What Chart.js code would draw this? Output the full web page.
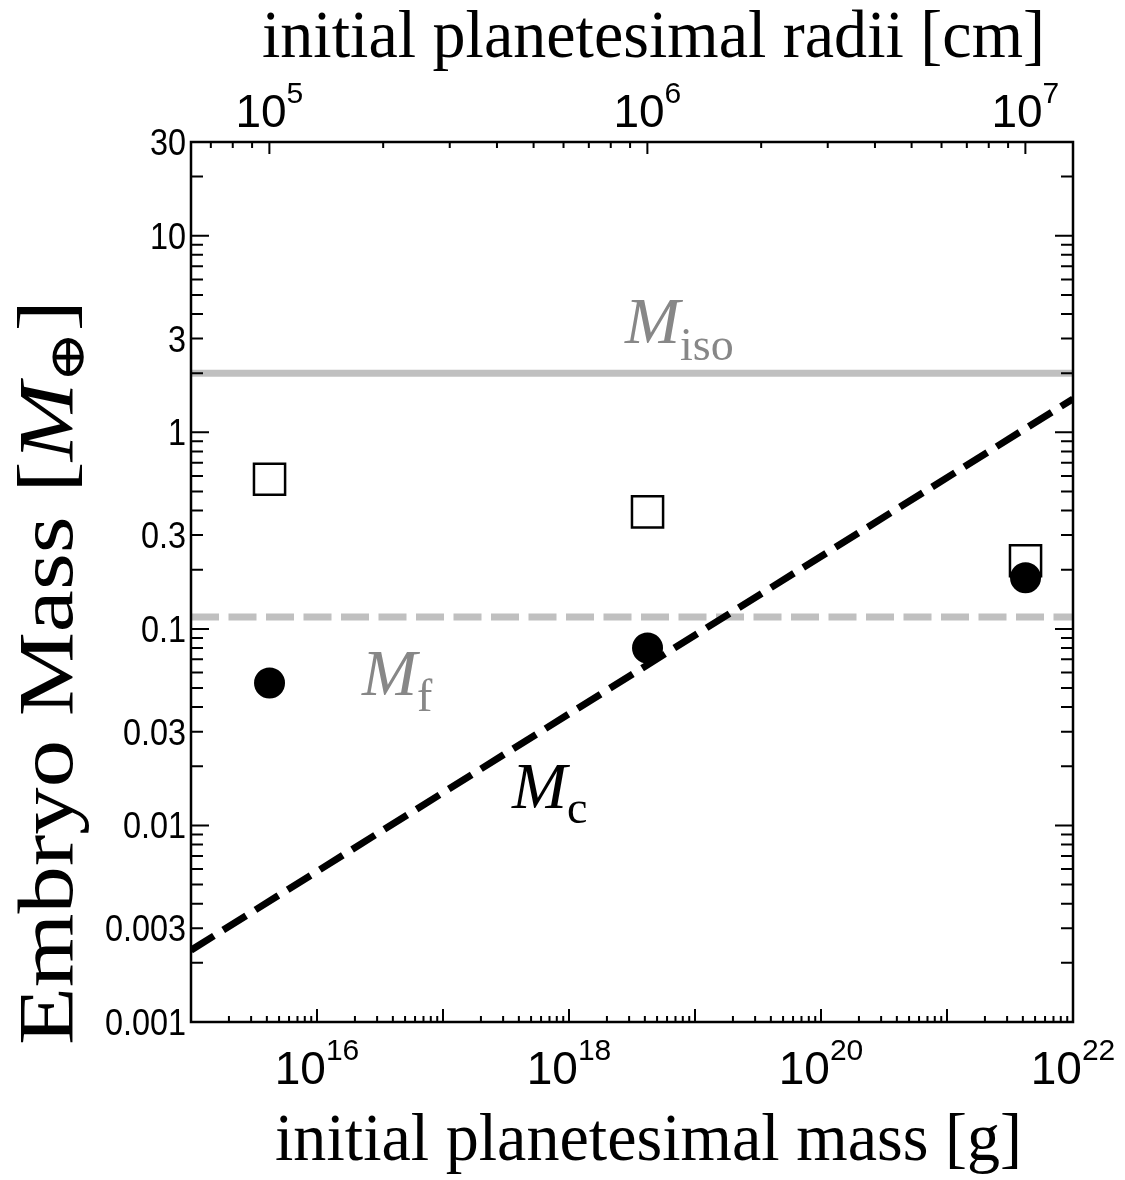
<!DOCTYPE html>
<html><head><meta charset="utf-8">
<script src="https://cdn.jsdelivr.net/npm/chart.js@4/dist/chart.umd.min.js"></script>
<style>html,body{margin:0;padding:0;background:#fff;}#wrap{width:1125px;height:1180px;}</style>
</head><body><div id="wrap"><canvas id="c" width="1125" height="1180"></canvas></div>
<script>
// ---------- data ----------
const planetesimalMass = [4.2e15, 4.2e18, 4.2e21];       // initial planetesimal mass [g]
const embryoMassSquares = [0.577, 0.394, 0.222];          // open squares [M_earth]
const embryoMassCircles = [0.053, 0.080, 0.182];          // filled circles [M_earth]
const isoMass = 2.0;                                      // M_iso
const fMass = 0.115;                                      // M_f
const mcMass = [1e15, 1e22];                              // M_c line, x ends
const mcEmbryoMass = [0.00232, 1.48];                     // M_c line, y ends
const xRange = [1e15, 1e22];
const yRange = [0.001, 30];
const bottomTickExps = [16, 18, 20, 22];
const topTickExps = [5, 6, 7];
const yTickLabels = ['0.001','0.003','0.01','0.03','0.1','0.3','1','3','10','30'];
const rho = 1; // g cm^-3, radius <-> mass

const radiusOf = m => Math.cbrt(3 * m / (4 * Math.PI * rho));

const SANS = "'Liberation Sans', Arial, sans-serif";
const SERIF = "'Liberation Serif', 'Times New Roman', 'DejaVu Serif', serif";

function drawParts(ctx, parts, x, y, targetW) {
  let total = 0;
  parts.forEach(p => { ctx.font = p.font; p.w = ctx.measureText(p.t).width; total += p.w; });
  const sx = targetW ? targetW / total : 1;
  ctx.save();
  ctx.translate(x, y);
  ctx.scale(sx, 1);
  let cx = 0;
  parts.forEach(p => {
    ctx.font = p.font;
    ctx.fillStyle = p.color || '#000';
    ctx.textAlign = 'left';
    ctx.textBaseline = 'alphabetic';
    ctx.fillText(p.t, cx, p.dy || 0);
    cx += p.w;
  });
  ctx.restore();
}

const framePlugin = {
  id: 'frame',
  afterDraw(chart) {
    const ctx = chart.ctx;
    const a = chart.chartArea;
    const xs = chart.scales.x, ys = chart.scales.y, xr = chart.scales.xr;
    ctx.save();
    ctx.strokeStyle = '#000';
    // frame
    ctx.lineWidth = 2.5;
    ctx.strokeRect(a.left, a.top, a.right - a.left, a.bottom - a.top);
    ctx.lineWidth = 2;
    ctx.beginPath();
    // y ticks (left and right)
    for (let d = -3; d <= 1; d++) {
      for (let k = 1; k <= 9; k++) {
        const v = k * Math.pow(10, d);
        if (v > yRange[1] * 1.0001) continue;
        const py = ys.getPixelForValue(v);
        const len = k === 1 ? 18 : 12;
        ctx.moveTo(a.left, py); ctx.lineTo(a.left + len, py);
        ctx.moveTo(a.right, py); ctx.lineTo(a.right - len, py);
      }
    }
    // bottom mass ticks
    for (let d = 15; d <= 22; d++) {
      for (let k = 1; k <= 9; k++) {
        const v = k * Math.pow(10, d);
        if (v > xRange[1] * 1.0001) continue;
        const px = xs.getPixelForValue(v);
        const len = k === 1 ? 13 : 6;
        ctx.moveTo(px, a.bottom); ctx.lineTo(px, a.bottom - len);
      }
    }
    // top radius ticks
    const rMin = xr.min, rMax = xr.max;
    for (let d = 4; d <= 7; d++) {
      for (let k = 1; k <= 9; k++) {
        const v = k * Math.pow(10, d);
        if (v < rMin || v > rMax) continue;
        const px = xr.getPixelForValue(v);
        const len = k === 1 ? 12 : 6;
        ctx.moveTo(px, a.top); ctx.lineTo(px, a.top + len);
      }
    }
    ctx.stroke();

    // y tick labels (slightly condensed sans)
    ctx.fillStyle = '#000';
    ctx.font = '36px ' + SANS;
    ctx.textAlign = 'right';
    ctx.textBaseline = 'alphabetic';
    yTickLabels.forEach(s => {
      const py = ys.getPixelForValue(parseFloat(s));
      ctx.save();
      ctx.translate(186, py + 13);
      ctx.scale(0.9, 1);
      ctx.fillText(s, 0, 0);
      ctx.restore();
    });

    // 10^n labels
    const drawPow = (px, exp, baseY) => {
      ctx.font = '46px ' + SANS;
      const wb = ctx.measureText('10').width;
      ctx.font = '30px ' + SANS;
      const we = ctx.measureText(String(exp)).width;
      const x0 = px - (wb + we) / 2;
      ctx.textAlign = 'left';
      ctx.font = '46px ' + SANS;
      ctx.fillText('10', x0, baseY);
      ctx.font = '30px ' + SANS;
      ctx.fillText(String(exp), x0 + wb, baseY - 24);
    };
    bottomTickExps.forEach(e => drawPow(xs.getPixelForValue(Math.pow(10, e)), e, 1084));
    topTickExps.forEach(e => drawPow(xr.getPixelForValue(Math.pow(10, e)), e, 127));

    // axis titles
    drawParts(ctx, [{t: 'initial planetesimal radii [cm]', font: '68px ' + SERIF}], 262, 57, 783);
    drawParts(ctx, [{t: 'initial planetesimal mass [g]', font: '68px ' + SERIF}], 275, 1160, 747);
    ctx.save();
    ctx.translate(72, 1045);
    ctx.rotate(-Math.PI / 2);
    drawParts(ctx, [
      {t: 'Embryo Mass [', font: '78px ' + SERIF},
      {t: 'M', font: 'italic 78px ' + SERIF},
      {t: '\u2295', font: '50px ' + SERIF, dy: 12},
      {t: ']', font: '78px ' + SERIF}
    ], 0, 0, 745);
    ctx.restore();

    // line annotations
    const gray = '#878787';
    drawParts(ctx, [{t: 'M', font: 'italic 66px ' + SERIF, color: gray}, {t: 'iso', font: '46px ' + SERIF, color: gray, dy: 17}], 625, 343);
    drawParts(ctx, [{t: 'M', font: 'italic 66px ' + SERIF, color: gray}, {t: 'f', font: '46px ' + SERIF, color: gray, dy: 16}], 362, 695);
    drawParts(ctx, [{t: 'M', font: 'italic 66px ' + SERIF, color: '#000'}, {t: 'c', font: '46px ' + SERIF, color: '#000', dy: 15}], 512, 808);
    ctx.restore();
  }
};

const pts = (xs, ys) => xs.map((x, i) => ({x: x, y: ys[i]}));

new Chart(document.getElementById('c').getContext('2d'), {
  type: 'scatter',
  data: {
    datasets: [
      {label: 'circles', data: pts(planetesimalMass, embryoMassCircles), pointStyle: 'circle',
       pointRadius: 15.5, backgroundColor: '#000', borderColor: '#000', borderWidth: 0, order: 0},
      {label: 'squares', data: pts(planetesimalMass, embryoMassSquares), pointStyle: 'rect',
       pointRadius: 22, backgroundColor: '#fff', borderColor: '#000', borderWidth: 2.5, order: 1},
      {label: 'Mc', data: pts(mcMass, mcEmbryoMass), showLine: true, borderColor: '#000',
       borderWidth: 7, borderDash: [27, 11], pointRadius: 0, order: 2},
      {label: 'Mf', data: pts(xRange, [fMass, fMass]), showLine: true, borderColor: '#c0c0c0',
       borderWidth: 7, borderDash: [28, 9.5], pointRadius: 0, order: 3},
      {label: 'Miso', data: pts(xRange, [isoMass, isoMass]), showLine: true, borderColor: '#c0c0c0',
       borderWidth: 7, pointRadius: 0, order: 4}
    ]
  },
  options: {
    animation: false, responsive: false, devicePixelRatio: 1, events: [],
    layout: {padding: {left: 191, top: 142, right: 52, bottom: 158}},
    plugins: {legend: {display: false}, tooltip: {enabled: false}},
    scales: {
      x: {type: 'logarithmic', min: xRange[0], max: xRange[1], display: false},
      y: {type: 'logarithmic', min: yRange[0], max: yRange[1], display: false},
      xr: {type: 'logarithmic', axis: 'x', position: 'top', min: radiusOf(xRange[0]), max: radiusOf(xRange[1]), display: false}
    }
  },
  plugins: [framePlugin]
});
</script></body></html>
